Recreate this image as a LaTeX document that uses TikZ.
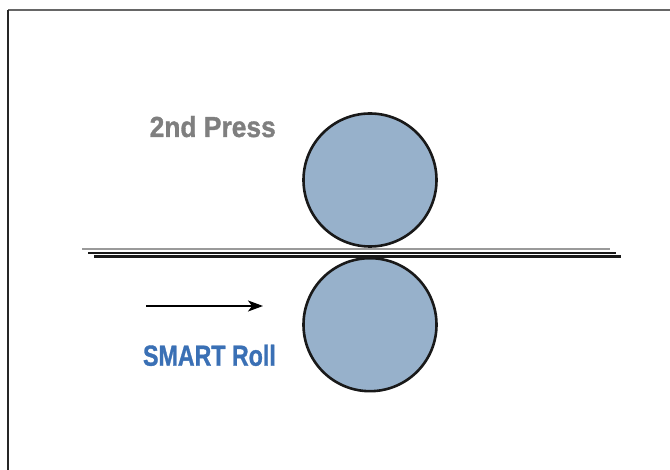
\documentclass[tikz,border=0pt]{standalone}
\usepackage{fontspec}
\setmainfont{Liberation Sans}
\newfontfamily\labelfont{Liberation Sans Bold}[FakeBold=1.2]
\usetikzlibrary{arrows.meta}
\definecolor{rollfill}{HTML}{97B1CB}
\definecolor{labelgray}{HTML}{7F7F7F}
\definecolor{labelblue}{HTML}{3A70B5}
\definecolor{sheetgray}{HTML}{9A9A9A}
\definecolor{framegray}{HTML}{666666}
\tikzset{
  roll/.style={circle, draw=black!90, line width=2.6pt, fill=rollfill, minimum size=133pt, inner sep=0pt},
  caption/.style={font=\labelfont\fontsize{29}{30}\selectfont, anchor=base east, inner sep=0pt},
  sheet/.style={line width=2.3pt},
}
\begin{document}
\begin{tikzpicture}[x=1pt,y=-1pt]
  \useasboundingbox (0,0) rectangle (670,470);
  \fill[white] (0,0) rectangle (670,470);
  % frame edges
  \draw[framegray, line width=2.4pt] (8,10) -- (670,10);
  \draw[black!85, line width=2.4pt] (8,10) -- (8,470);
  % press rolls
  \node[roll] (upper) at (370,180) {};
  \node[roll] (lower) at (370,324.7) {};
  % paper web layers between the rolls
  \draw[sheet, sheetgray] (82,249.3) -- (610,249.3);
  \draw[sheet, black!90] (88,253) -- (616,253);
  \draw[sheet, black!90] (94,256.5) -- (621,256.5);
  % travel direction
  \coordinate (dirstart) at (146,306);
  \coordinate (dirend) at (263,306);
  \draw[line width=1.8pt, -{Stealth[length=15pt,width=11pt,inset=4pt]}] (dirstart) -- (dirend);
  % labels
  \node[caption, text=labelgray] (press) at (276,137) {\scalebox{0.91}[1]{2nd Press}};
  \node[caption, text=labelblue] (smart) at (276,365.7) {\scalebox{0.80}[1]{SMART Roll}};
\end{tikzpicture}
\end{document}
